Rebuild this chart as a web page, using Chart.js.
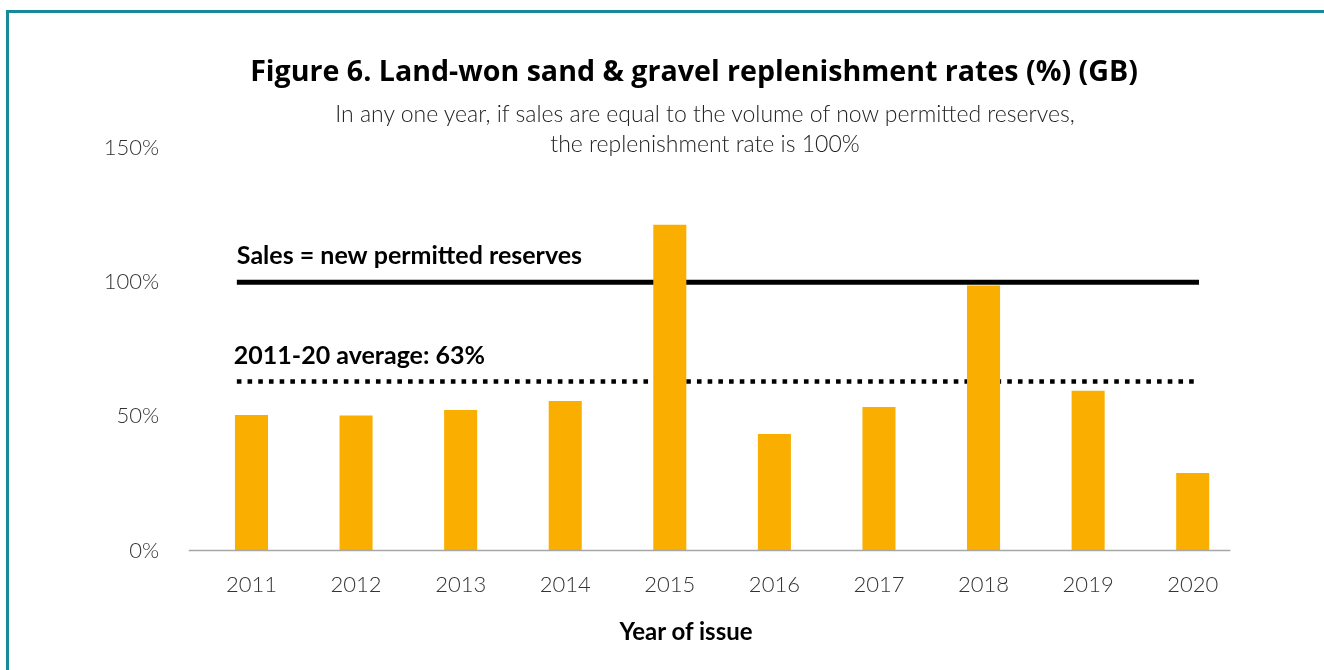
<!DOCTYPE html>
<html>
<head>
<meta charset="utf-8">
<script src="https://cdn.jsdelivr.net/npm/chart.js@4.4.0/dist/chart.umd.min.js"></script>
<style>
  html, body { margin: 0; padding: 0; background: #ffffff; }
  #wrap { position: relative; width: 1324px; height: 670px; overflow: hidden; background: #fff; }
  #frame { position: absolute; left: 6px; top: 10px; width: 1400px; height: 800px;
           border-top: 3px solid #168a9b; border-left: 3px solid #168a9b; box-sizing: border-box; }
  canvas { position: absolute; left: 0; top: 0; }
  .txt { position: absolute; white-space: nowrap; font-family: Lato, "Open Sans", sans-serif; }
  #title { left: 694px; top: 56px; transform: translateX(-50%); font-family: "Open Sans", Lato, sans-serif; font-size: 28.6px; line-height: 28px; font-weight: 700; color: #000; }
  #subtitle { left: 705px; top: 98px; transform: translateX(-50%); font-size: 23px; line-height: 30px; font-weight: 300; color: #222; text-align: center; }
  #xtitle { left: 686px; top: 619px; transform: translateX(-50%); font-size: 24px; line-height: 24px; font-weight: 700; color: #000; }
</style>
</head>
<body>
<div id="wrap">
  <div id="frame"></div>
  <canvas id="c" width="1324" height="670"></canvas>
  <div class="txt" id="title">Figure 6. Land-won sand &amp; gravel replenishment rates (%) (GB)</div>
  <div class="txt" id="subtitle">In any one year, if sales are equal to the volume of now permitted reserves,<br>the replenishment rate is 100%</div>
  <div class="txt" id="xtitle">Year of issue</div>
</div>
<script>
// ---- data ----
const years = ['2011','2012','2013','2014','2015','2016','2017','2018','2019','2020'];
const replenishmentRates = [50.5, 50.3, 52.4, 55.7, 121.4, 43.4, 53.5, 98.8, 59.5, 28.9];
const salesEqualsReserves = 100;
const averageRate = 63;
const refLineSpan = [-0.14, 9.06];     // category-index span of the reference lines
const baselineSpan = [-0.6, 9.36];     // category-index span of the axis baseline
const yTicks = [0, 50, 100, 150];
const salesLabel = 'Sales = new permitted reserves';
const averageLabel = '2011-20 average: 63%';

const refLabels = {
  id: 'refLabels',
  afterDatasetsDraw(chart) {
    const ctx = chart.ctx;
    const xs = chart.scales.x2, ys = chart.scales.y;
    ctx.save();
    ctx.fillStyle = '#000';
    ctx.font = 'bold 25px Lato, "Open Sans", sans-serif';
    ctx.textAlign = 'left';
    ctx.textBaseline = 'alphabetic';
    ctx.fillText(salesLabel, xs.getPixelForValue(refLineSpan[0]), ys.getPixelForValue(salesEqualsReserves) - 18);
    ctx.fillText(averageLabel, xs.getPixelForValue(refLineSpan[0]) - 3, ys.getPixelForValue(averageRate) - 17);
    ctx.restore();
  }
};

new Chart(document.getElementById('c'), {
  type: 'bar',
  data: {
    labels: years,
    datasets: [
      {
        type: 'bar',
        label: 'Replenishment rate',
        data: replenishmentRates,
        backgroundColor: '#F9AE00',
        borderWidth: 0,
        grouped: false,
        barPercentage: 0.316,
        categoryPercentage: 1.0,
        xAxisID: 'x',
        yAxisID: 'y',
        order: 1
      },
      {
        type: 'line',
        label: 'Sales = new permitted reserves',
        data: refLineSpan.map(x => ({ x, y: salesEqualsReserves })),
        borderColor: '#000',
        borderWidth: 5,
        pointRadius: 0,
        xAxisID: 'x2',
        yAxisID: 'y',
        clip: false,
        order: 3
      },
      {
        type: 'line',
        label: '2011-20 average',
        data: refLineSpan.map(x => ({ x, y: averageRate })),
        borderColor: '#000',
        borderWidth: 4.6,
        borderDash: [4.6, 6.1],
        borderCapStyle: 'butt',
        pointRadius: 0,
        xAxisID: 'x2',
        yAxisID: 'y',
        clip: false,
        order: 2
      },
      {
        type: 'line',
        label: 'axis',
        data: baselineSpan.map(x => ({ x, y: 0 })),
        borderColor: '#a6a6a6',
        borderWidth: 1.5,
        pointRadius: 0,
        xAxisID: 'x2',
        yAxisID: 'y',
        clip: false,
        order: 0
      }
    ]
  },
  options: {
    responsive: false,
    animation: false,
    events: [],
    layout: { padding: { left: 0, right: 79, top: 148, bottom: 0 } },
    plugins: { legend: { display: false }, tooltip: { enabled: false }, title: { display: false } },
    scales: {
      x: {
        type: 'category',
        offset: true,
        grid: { display: false, drawTicks: false },
        border: { display: false },
        ticks: { color: '#333', font: { family: 'Lato', size: 22, weight: 300 }, padding: 21, maxRotation: 0 },
        afterFit(s) { s.height = 119.5; }
      },
      x2: {
        type: 'linear',
        display: false,
        offset: false,
        min: -0.5,
        max: 9.5
      },
      y: {
        type: 'linear',
        min: 0,
        max: 150,
        grid: { display: false, drawTicks: false },
        border: { display: false },
        afterBuildTicks(s) { s.ticks = yTicks.map(v => ({ value: v })); },
        ticks: { color: '#333', font: { family: 'Lato', size: 22, weight: 300 }, padding: 40, callback: v => v + '%' },
        afterFit(s) { s.width = 199.2; }
      }
    }
  },
  plugins: [refLabels]
});
</script>
</body>
</html>
